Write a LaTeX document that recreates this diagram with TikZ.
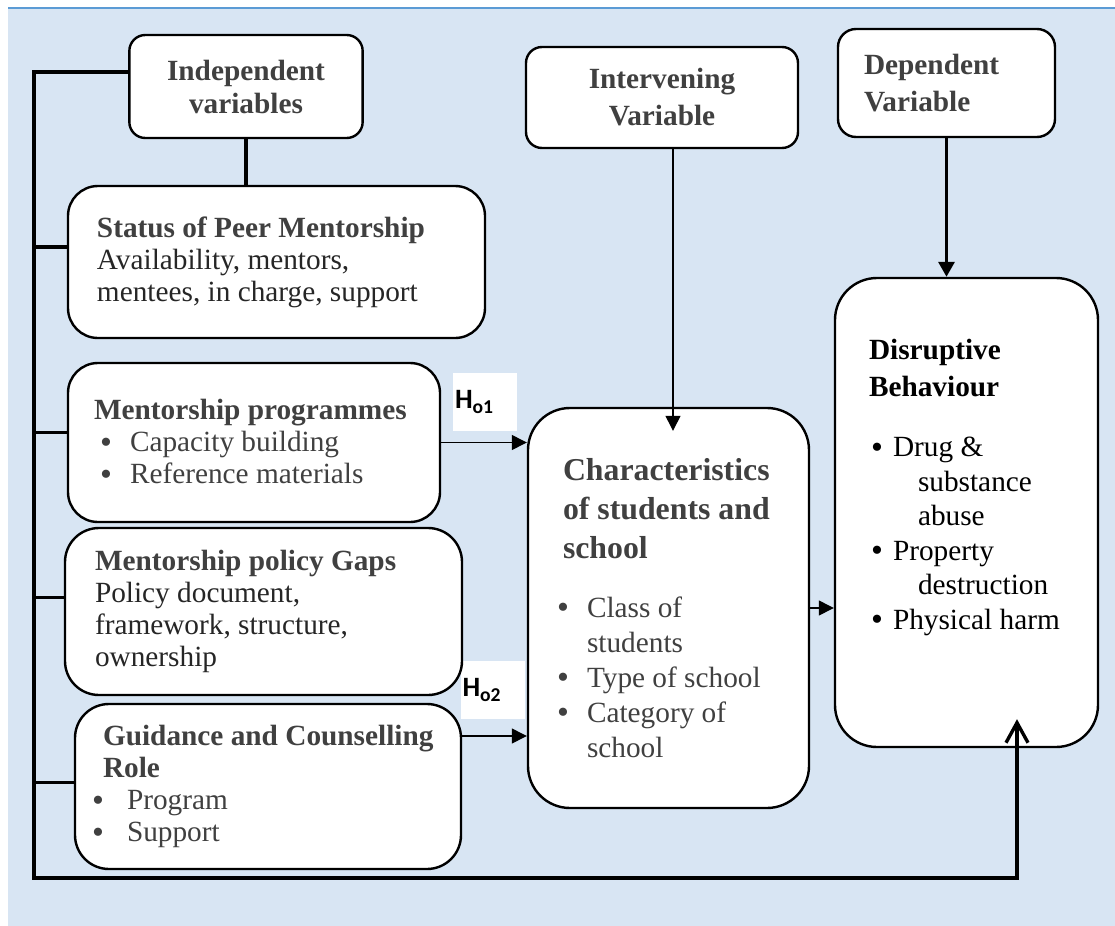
\documentclass[tikz,border=0pt]{standalone}
\usepackage{fontspec}
\setmainfont{Liberation Serif}
\newfontfamily\labelfont{Carlito}
\usetikzlibrary{arrows.meta}

\definecolor{pagebg}{HTML}{D8E5F3}
\definecolor{rulebl}{HTML}{5B9BD5}
\definecolor{ink}{HTML}{404040}
\definecolor{body}{HTML}{262626}

% bullet line: bullet offset, text offset, hanging indent, text
\newcommand{\vitem}[4]{\par\noindent\hangindent=#3\hangafter=1%
  \makebox[#2][l]{\hspace*{#1}\raisebox{-0.8pt}{\fontsize{17}{17}\selectfont\textbullet}}#4}

\begin{document}
\begin{tikzpicture}
  [x=0.5pt,y=-0.5pt,
   varbox/.style={draw,fill=white,line width=1.2pt,text=ink,font=\fontsize{14.65}{16}\selectfont},
   busline/.style={line width=1.7pt},
   thinarrow/.style={line width=0.65pt,-{Triangle[length=7.5pt,width=7.5pt]}},
   boldarrow/.style={line width=1.6pt,-{Triangle[length=7.5pt,width=8pt]}},
   hlabel/.style={fill=white,inner sep=0pt,text width=30pt,align=flush left,
     minimum width=32pt,minimum height=29pt,font=\labelfont\bfseries\fontsize{14}{16}\selectfont}]

  % page and top rule
  \useasboundingbox (0,0) rectangle (1115,926);
  \fill[pagebg] (8,9) rectangle (1115,926);
  \draw[rulebl,line width=1.2pt] (8,8) -- (1115,8);

  % hypotheses
  \node [hlabel] (ho1) at (485,402) {H\textsubscript{o1}};
  \node [hlabel] (ho2) at (492.5,690) {H\textsubscript{o2}};

  % headings
  \node [varbox,rounded corners=8pt,minimum width=116pt,minimum height=51.5pt,text width=110pt,
    align=flush center,font=\fontsize{14.65}{16.5}\selectfont\bfseries] (indep) at (246,86.5) {Independent\\variables};
  \node [varbox,rounded corners=8pt,minimum width=136pt,minimum height=50.5pt,text width=120pt,
    align=flush center,font=\fontsize{14.65}{18.5}\selectfont\bfseries] (inter) at (662,97.5) {Intervening\\Variable};
  \node [varbox,rounded corners=9pt,minimum width=108.5pt,minimum height=54pt,text width=82.5pt,
    align=flush left,font=\fontsize{14.65}{18.5}\selectfont\bfseries] (dep) at (946.5,83) {Dependent\\Variable};

  % independent variables
  \node [varbox,rounded corners=15pt,minimum width=208.5pt,minimum height=76pt,text width=179.5pt,align=flush left] (status) at (276.5,262)
    {\textbf{Status of Peer Mentorship}\\\textcolor{body}{Availability, mentors,}\\\textcolor{body}{mentees, in charge, support}};
  \node [varbox,rounded corners=15pt,minimum width=186pt,minimum height=79.5pt,text width=160pt,align=flush left] (prog) at (254,442.5)
    {\textbf{Mentorship programmes}\vitem{3pt}{18pt}{18pt}{Capacity building}\vitem{3pt}{18pt}{18pt}{Reference materials}\par};
  \node [varbox,rounded corners=17pt,minimum width=198.5pt,minimum height=83.5pt,text width=168.5pt,align=flush left] (policy) at (263.5,611.5)
    {\textbf{Mentorship policy Gaps}\\\textcolor{body}{Policy document,}\\\textcolor{body}{framework, structure,}\\\textcolor{body}{ownership}};
  \node [varbox,rounded corners=17pt,minimum width=193pt,minimum height=82.5pt,text width=176pt,align=flush left] (guid) at (268,786.5)
    {\hspace*{5.5pt}\textbf{Guidance and Counselling}\\\hspace*{5.5pt}\textbf{Role}\vitem{0pt}{17.5pt}{17.5pt}{Program}\vitem{0pt}{17.5pt}{17.5pt}{Support}\par};

  % intervening and dependent
  \node [varbox,rounded corners=21pt,minimum width=140.5pt,minimum height=200pt,text width=111.5pt,align=flush left,
    font=\fontsize{15.9}{19.5}\selectfont\bfseries] (chars) at (668.5,608)
    {\hspace*{3pt}Characteristics\\\hspace*{3pt}of students and\\\hspace*{3pt}school\par\vspace{12pt}\fontsize{14.65}{17.5}\selectfont\mdseries
     \vitem{0pt}{15pt}{15pt}{Class of\newline students}\vitem{0pt}{15pt}{15pt}{Type of school}\vitem{0pt}{15pt}{15pt}{Category of\newline school}\par};
  \node [varbox,text=black,rounded corners=21pt,minimum width=131.5pt,minimum height=234.5pt,text width=97.5pt,align=flush left,
    font=\fontsize{14.65}{18.5}\selectfont] (disr) at (966.5,512.5)
    {\textbf{Disruptive}\\\textbf{Behaviour}\par\vspace{12.75pt}\fontsize{14.65}{17.25}\selectfont
     \vitem{1pt}{12pt}{24.5pt}{Drug \&\newline substance\newline abuse}\vitem{1pt}{12pt}{24.5pt}{Property\newline destruction}\vitem{1pt}{12pt}{24.5pt}{Physical harm}\par\vspace*{25pt}};

  % left bus with feedback into the outcome
  \coordinate (bustop) at (34,72);
  \coordinate (busend) at (34,878);
  \coordinate (fb) at ([xshift=25.25pt,yshift=14.5pt]disr.south);
  \draw[busline,-{Straight Barb[length=10pt,width=11pt]}] (indep.west |- bustop) -- (bustop) -- (busend) -| (fb);
  \foreach \n/\dy in {status/7.5,prog/5,policy/7,guid/2}
    \draw[busline] ([yshift=\dy pt]\n.west) -| (bustop);
  \draw[busline] (indep.south) -- (indep.south |- status.north);

  % arrows
  \coordinate (ho2in) at ([yshift=25.25pt]guid.east);
  \coordinate (infrom) at ([xshift=5.5pt]inter.south);
  \coordinate (chtop) at ([yshift=-12pt]chars.north);
  \draw[thinarrow] (prog.east) -- (prog.east -| chars.west);
  \draw[thinarrow] (ho2in) -- (ho2in -| chars.west);
  \draw[thinarrow] (chars.east) -- (chars.east -| disr.west);
  \draw[thinarrow] (infrom) -- (infrom |- chtop);
  \draw[boldarrow] (dep.south) -- (dep.south |- disr.north);

\end{tikzpicture}
\end{document}
